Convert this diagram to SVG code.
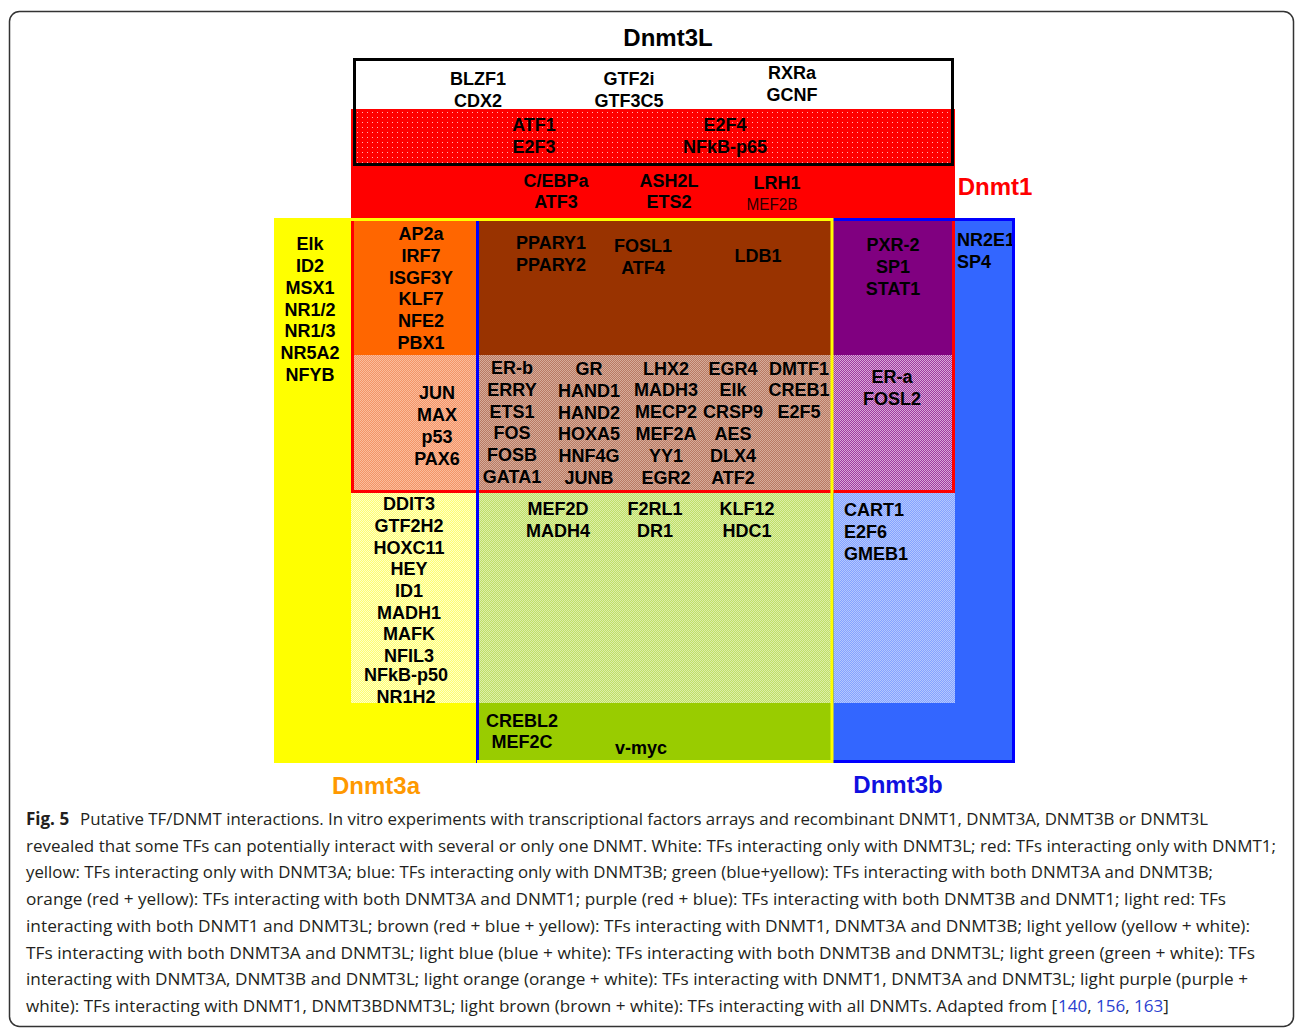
<svg xmlns="http://www.w3.org/2000/svg" width="1295" height="1029" viewBox="0 0 1295 1029">
<style>
.t{font-family:"Liberation Sans",Arial,sans-serif;font-weight:bold;font-size:18px;fill:#000;text-anchor:middle}
.l{text-anchor:start}
.ttl{font-family:"Liberation Sans",Arial,sans-serif;font-weight:bold;font-size:24px;text-anchor:middle}
.cap{font-family:"Open Sans","Liberation Sans",sans-serif;font-size:17px;fill:#231f20}
.ref{fill:#2a3fd0}
.ln{fill:none;stroke-width:3}
</style>
<defs>
<pattern id="pLR" width="5" height="5" patternUnits="userSpaceOnUse"><rect width="5" height="5" fill="#FF0000"/><rect x="2" y="2" width="1" height="1" fill="#FFB3B3"/></pattern>
<pattern id="pLO" width="2" height="2" patternUnits="userSpaceOnUse"><rect width="2" height="2" fill="#F39467"/><rect width="1" height="1" fill="#FBBC9C"/><rect x="1" y="1" width="1" height="1" fill="#FBBC9C"/></pattern>
<pattern id="pLB" width="2" height="2" patternUnits="userSpaceOnUse"><rect width="2" height="2" fill="#B97A63"/><rect width="1" height="1" fill="#D6AC9A"/><rect x="1" y="1" width="1" height="1" fill="#D6AC9A"/></pattern>
<pattern id="pLP" width="2" height="2" patternUnits="userSpaceOnUse"><rect width="2" height="2" fill="#9E3C9E"/><rect width="1" height="1" fill="#D9A6D9"/><rect x="1" y="1" width="1" height="1" fill="#D9A6D9"/></pattern>
<pattern id="pLY" width="2" height="2" patternUnits="userSpaceOnUse"><rect width="2" height="2" fill="#FFFF70"/><rect width="1" height="1" fill="#FFFFC8"/><rect x="1" y="1" width="1" height="1" fill="#FFFFC8"/></pattern>
<pattern id="pLG" width="2" height="2" patternUnits="userSpaceOnUse"><rect width="2" height="2" fill="#BFDF66"/><rect width="1" height="1" fill="#DDEFA8"/><rect x="1" y="1" width="1" height="1" fill="#DDEFA8"/></pattern>
<pattern id="pLBl" width="2" height="2" patternUnits="userSpaceOnUse"><rect width="2" height="2" fill="#85A3FF"/><rect width="1" height="1" fill="#B3C7FF"/><rect x="1" y="1" width="1" height="1" fill="#B3C7FF"/></pattern>
</defs>
<rect width="1295" height="1029" fill="#fff"/>
<rect x="9.5" y="11.5" width="1284" height="1015" rx="10" fill="#fff" stroke="#333" stroke-width="1.5"/>

<g id="dnmt3a-region"><rect x="274" y="218" width="203" height="545" fill="#FFFF00"/></g>
<g id="dnmt3b-region"><rect x="832" y="218" width="183" height="545" fill="#3366FF"/></g>
<g id="dnmt1-region"><rect x="351" y="109" width="604" height="109" fill="#FF0000"/></g>
<g id="dnmt3l-region"><rect x="353" y="58" width="601" height="51" fill="#FFFFFF"/></g>

<g id="white">
<text class="t" x="478" y="84.5">BLZF1</text><text class="t" x="478" y="106.5">CDX2</text>
<text class="t" x="629" y="84.5">GTF2i</text><text class="t" x="629" y="107">GTF3C5</text>
<text class="t" x="792" y="78.5">RXRa</text><text class="t" x="792" y="100.5">GCNF</text>
</g>
<g id="light-red">
<rect x="353" y="109" width="600" height="56" fill="url(#pLR)"/>
<text class="t" x="534" y="130.5">ATF1</text><text class="t" x="534" y="152.5">E2F3</text>
<text class="t" x="725" y="130.5">E2F4</text><text class="t" x="725" y="152.5">NFkB-p65</text>
</g>
<g id="red">
<text class="t" x="556" y="186.5">C/EBPa</text><text class="t" x="556" y="207.5">ATF3</text>
<text class="t" x="669" y="186.5">ASH2L</text><text class="t" x="669" y="207.5">ETS2</text>
<text class="t" x="777" y="188.5">LRH1</text>
<text class="t" x="772" y="210" style="font-weight:normal;font-size:17px;fill:#2a0000" textLength="51" lengthAdjust="spacingAndGlyphs">MEF2B</text>
</g>
<g id="yellow">
<text class="t" x="310" y="249.5">Elk</text><text class="t" x="310" y="271.5">ID2</text><text class="t" x="310" y="293.5">MSX1</text>
<text class="t" x="310" y="315.5">NR1/2</text><text class="t" x="310" y="337">NR1/3</text><text class="t" x="310" y="359">NR5A2</text><text class="t" x="310" y="381">NFYB</text>
</g>
<g id="orange">
<rect x="353" y="220" width="124" height="135" fill="#FF6600"/>
<text class="t" x="421" y="239.5">AP2a</text><text class="t" x="421" y="261.5">IRF7</text><text class="t" x="421" y="283.5">ISGF3Y</text>
<text class="t" x="421" y="304.5">KLF7</text><text class="t" x="421" y="326.5">NFE2</text><text class="t" x="421" y="348.5">PBX1</text>
</g>
<g id="light-orange">
<rect x="353" y="355" width="124" height="137" fill="url(#pLO)"/>
<text class="t" x="437" y="398.5">JUN</text><text class="t" x="437" y="420.5">MAX</text><text class="t" x="437" y="442.5">p53</text><text class="t" x="437" y="464.5">PAX6</text>
</g>
<g id="brown">
<rect x="477" y="220" width="355" height="135" fill="#993300"/>
<text class="t" x="551" y="248.5">PPARY1</text><text class="t" x="551" y="270.5">PPARY2</text>
<text class="t" x="643" y="251.5">FOSL1</text><text class="t" x="643" y="273.5">ATF4</text>
<text class="t" x="758" y="261.5">LDB1</text>
</g>
<g id="light-brown">
<rect x="477" y="355" width="355" height="137" fill="url(#pLB)"/>
<text class="t" x="512" y="373.5">ER-b</text><text class="t" x="512" y="395.5">ERRY</text><text class="t" x="512" y="417.5">ETS1</text><text class="t" x="512" y="438.5">FOS</text><text class="t" x="512" y="460.5">FOSB</text><text class="t" x="512" y="482.5">GATA1</text>
<text class="t" x="589" y="374.5">GR</text><text class="t" x="589" y="396.5">HAND1</text><text class="t" x="589" y="418.5">HAND2</text><text class="t" x="589" y="439.5">HOXA5</text><text class="t" x="589" y="461.5">HNF4G</text><text class="t" x="589" y="483.5">JUNB</text>
<text class="t" x="666" y="374.5">LHX2</text><text class="t" x="666" y="395.5">MADH3</text><text class="t" x="666" y="417.5">MECP2</text><text class="t" x="666" y="439.5">MEF2A</text><text class="t" x="666" y="461.5">YY1</text><text class="t" x="666" y="483.5">EGR2</text>
<text class="t" x="733" y="374.5">EGR4</text><text class="t" x="733" y="395.5">Elk</text><text class="t" x="733" y="417.5">CRSP9</text><text class="t" x="733" y="439.5">AES</text><text class="t" x="733" y="461.5">DLX4</text><text class="t" x="733" y="483.5">ATF2</text>
<text class="t" x="799" y="374.5">DMTF1</text><text class="t" x="799" y="395.5">CREB1</text><text class="t" x="799" y="417.5">E2F5</text>
</g>
<g id="purple">
<rect x="832" y="220" width="123" height="135" fill="#800080"/>
<text class="t" x="893" y="250.5">PXR-2</text><text class="t" x="893" y="272.5">SP1</text><text class="t" x="893" y="294.5">STAT1</text>
</g>
<g id="light-purple">
<rect x="832" y="355" width="123" height="137" fill="url(#pLP)"/>
<text class="t" x="892" y="382.5">ER-a</text><text class="t" x="892" y="404.5">FOSL2</text>
</g>
<g id="blue">
<text class="t l" x="957" y="245.5">NR2E1</text><text class="t l" x="957" y="267.5">SP4</text>
</g>
<g id="light-yellow">
<rect x="351" y="492" width="126" height="211" fill="url(#pLY)"/>
<text class="t" x="409" y="509.5">DDIT3</text><text class="t" x="409" y="531.5">GTF2H2</text><text class="t" x="409" y="553.5">HOXC11</text>
<text class="t" x="409" y="574.5">HEY</text><text class="t" x="409" y="596.5">ID1</text><text class="t" x="409" y="618.5">MADH1</text>
<text class="t" x="409" y="639.5">MAFK</text><text class="t" x="409" y="661.5">NFIL3</text><text class="t" x="406" y="680.5">NFkB-p50</text><text class="t" x="406" y="702.5">NR1H2</text>
</g>
<g id="light-green">
<rect x="477" y="492" width="355" height="211" fill="url(#pLG)"/>
<text class="t" x="558" y="514.5">MEF2D</text><text class="t" x="558" y="536.5">MADH4</text>
<text class="t" x="655" y="514.5">F2RL1</text><text class="t" x="655" y="536.5">DR1</text>
<text class="t" x="747" y="514.5">KLF12</text><text class="t" x="747" y="536.5">HDC1</text>
</g>
<g id="light-blue">
<rect x="834" y="492" width="121" height="211" fill="url(#pLBl)"/>
<text class="t l" x="844" y="515.5">CART1</text><text class="t l" x="844" y="537.5">E2F6</text><text class="t l" x="844" y="559.5">GMEB1</text>
</g>
<g id="green">
<rect x="477" y="703" width="355" height="60" fill="#99CC00"/>
<text class="t" x="522" y="726.5">CREBL2</text><text class="t" x="522" y="747.5">MEF2C</text>
<text class="t" x="641" y="753.5">v-myc</text>
</g>

<g id="connectors">
<rect class="ln" x="354.5" y="59.5" width="598" height="105" stroke="#000"/>
<path class="ln" d="M352.5 218V493M351 491.5H955M953.5 218V493" stroke="#FF0000"/>
<path class="ln" d="M477.5 218V763M832 219.5H1015M1013.5 218V763M832 761.5H1015" stroke="#0000FF"/>
<path class="ln" d="M351 219.5H833M832 218V763M477 761.5H833" stroke="#FFFF00"/>
</g>

<g id="labels">
<text class="ttl" x="668" y="45.5" fill="#000">Dnmt3L</text>
<text class="ttl" x="995" y="194.5" fill="#FF0000">Dnmt1</text>
<text class="ttl" x="376" y="793.5" fill="#FF9900">Dnmt3a</text>
<text class="ttl" x="898" y="792.5" fill="#1010E0">Dnmt3b</text>
</g>

<g id="caption">
<text class="cap" x="26" y="825" font-weight="bold">Fig. 5</text>
<text class="cap" x="80" y="825" textLength="1128" lengthAdjust="spacingAndGlyphs">Putative TF/DNMT interactions. In vitro experiments with transcriptional factors arrays and recombinant DNMT1, DNMT3A, DNMT3B or DNMT3L</text>
<text class="cap" x="26" y="851.7" textLength="1250" lengthAdjust="spacingAndGlyphs">revealed that some TFs can potentially interact with several or only one DNMT. White: TFs interacting only with DNMT3L; red: TFs interacting only with DNMT1;</text>
<text class="cap" x="26" y="878.4" textLength="1187" lengthAdjust="spacingAndGlyphs">yellow: TFs interacting only with DNMT3A; blue: TFs interacting only with DNMT3B; green (blue+yellow): TFs interacting with both DNMT3A and DNMT3B;</text>
<text class="cap" x="26" y="905.1" textLength="1200" lengthAdjust="spacingAndGlyphs">orange (red + yellow): TFs interacting with both DNMT3A and DNMT1; purple (red + blue): TFs interacting with both DNMT3B and DNMT1; light red: TFs</text>
<text class="cap" x="26" y="931.8" textLength="1224" lengthAdjust="spacingAndGlyphs">interacting with both DNMT1 and DNMT3L; brown (red + blue + yellow): TFs interacting with DNMT1, DNMT3A and DNMT3B; light yellow (yellow + white):</text>
<text class="cap" x="26" y="958.5" textLength="1229" lengthAdjust="spacingAndGlyphs">TFs interacting with both DNMT3A and DNMT3L; light blue (blue + white): TFs interacting with both DNMT3B and DNMT3L; light green (green + white): TFs</text>
<text class="cap" x="26" y="985.2" textLength="1222" lengthAdjust="spacingAndGlyphs">interacting with DNMT3A, DNMT3B and DNMT3L; light orange (orange + white): TFs interacting with DNMT1, DNMT3A and DNMT3L; light purple (purple +</text>
<text class="cap" x="26" y="1011.9" textLength="1031" lengthAdjust="spacingAndGlyphs">white): TFs interacting with DNMT1, DNMT3BDNMT3L; light brown (brown + white): TFs interacting with all DNMTs. Adapted from [</text>
<text class="cap" x="1058" y="1011.9"><tspan class="ref">140</tspan>, <tspan class="ref">156</tspan>, <tspan class="ref">163</tspan>]</text>
</g>
</svg>
